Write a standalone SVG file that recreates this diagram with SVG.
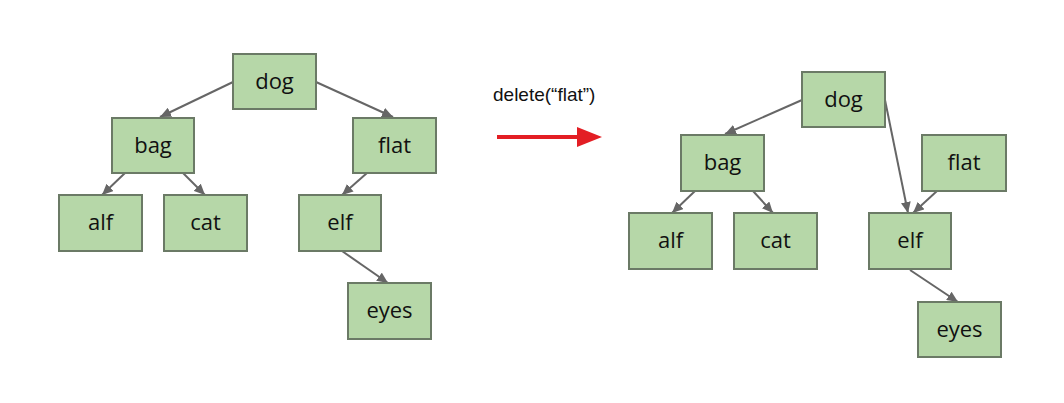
<svg xmlns="http://www.w3.org/2000/svg" width="1064" height="403" viewBox="0 0 1064 403">
<style>
.node rect{fill:#b6d7a8;stroke:#6b7a66;stroke-width:2}
.node text{font-family:"Open Sans","Noto Sans",sans-serif;font-size:22px;fill:#111;text-anchor:middle}
.edge{stroke:#666;stroke-width:2;fill:none;marker-end:url(#ah)}
.lbl{font-family:"Liberation Sans",Arial,sans-serif;font-size:19px;fill:#111}
</style>
<defs>
<marker id="ah" markerUnits="userSpaceOnUse" markerWidth="12" markerHeight="10" refX="11" refY="5" orient="auto">
<path d="M0,0 L11,5 L0,10 z" fill="#666"/>
</marker>
</defs>
<rect width="1064" height="403" fill="#fff"/>
<g id="connectors">
<line class="edge" x1="233" y1="82" x2="160" y2="117"/>
<line class="edge" x1="316" y1="82" x2="393" y2="117"/>
<line class="edge" x1="125" y1="173" x2="102" y2="195"/>
<line class="edge" x1="183" y1="173" x2="205" y2="195"/>
<line class="edge" x1="367" y1="173" x2="342" y2="195"/>
<line class="edge" x1="342" y1="251" x2="388" y2="283"/>
<line class="edge" x1="802" y1="100" x2="725" y2="134"/>
<line class="edge" x1="885" y1="100" x2="908" y2="213"/>
<line class="edge" x1="937" y1="191" x2="913" y2="213"/>
<line class="edge" x1="695" y1="191" x2="672" y2="213"/>
<line class="edge" x1="753" y1="191" x2="773" y2="213"/>
<line class="edge" x1="910" y1="270" x2="958" y2="302"/>
</g>
<g id="L-dog" class="node"><rect x="233" y="54" width="83" height="55"/><text x="274.5" y="89">dog</text></g>
<g id="L-bag" class="node"><rect x="112" y="118" width="82" height="55"/><text x="153" y="153">bag</text></g>
<g id="L-flat" class="node"><rect x="353" y="118" width="83" height="55"/><text x="394.5" y="153">flat</text></g>
<g id="L-alf" class="node"><rect x="59" y="195" width="83" height="56"/><text x="100.5" y="230">alf</text></g>
<g id="L-cat" class="node"><rect x="164" y="195" width="83" height="56"/><text x="205.5" y="230">cat</text></g>
<g id="L-elf" class="node"><rect x="299" y="195" width="82" height="56"/><text x="340" y="230">elf</text></g>
<g id="L-eyes" class="node"><rect x="348" y="283" width="83" height="56"/><text x="389.5" y="318">eyes</text></g>
<g id="op">
<text class="lbl" x="493" y="101">delete(“flat”)</text>
<line x1="497" y1="137" x2="580" y2="137" stroke="#e31e24" stroke-width="4"/>
<polygon points="577,127 602,137 577,147" fill="#e31e24"/>
</g>
<g id="R-dog" class="node"><rect x="802" y="72" width="83" height="55"/><text x="843.5" y="107">dog</text></g>
<g id="R-bag" class="node"><rect x="681" y="135" width="83" height="56"/><text x="722.5" y="170">bag</text></g>
<g id="R-flat" class="node"><rect x="922" y="135" width="84" height="56"/><text x="964" y="170">flat</text></g>
<g id="R-alf" class="node"><rect x="629" y="213" width="83" height="56"/><text x="670.5" y="248">alf</text></g>
<g id="R-cat" class="node"><rect x="734" y="213" width="83" height="56"/><text x="775.5" y="248">cat</text></g>
<g id="R-elf" class="node"><rect x="869" y="213" width="82" height="56"/><text x="910" y="248">elf</text></g>
<g id="R-eyes" class="node"><rect x="918" y="302" width="83" height="55"/><text x="959.5" y="337">eyes</text></g>
</svg>
